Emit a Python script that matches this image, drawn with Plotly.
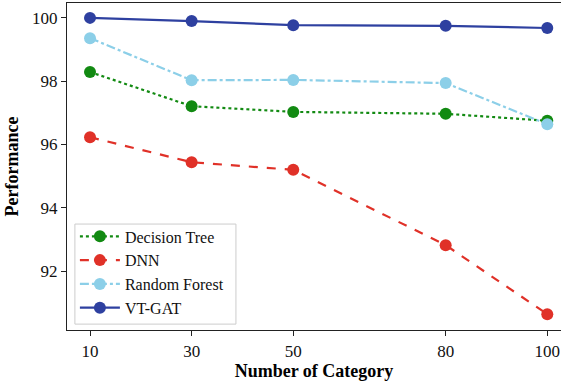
import plotly.graph_objects as go

categories = [10, 30, 50, 80, 100]
decision_tree = [98.29, 97.21, 97.03, 96.97, 96.75]
dnn = [96.23, 95.44, 95.20, 92.82, 90.64]
random_forest = [99.36, 98.03, 98.04, 97.94, 96.64]
vt_gat = [100.0, 99.90, 99.77, 99.75, 99.68]
y_ticks = [92, 94, 96, 98, 100]

series = [
    ("Decision Tree", decision_tree, "#128a12", "dot"),
    ("DNN", dnn, "#e03128", "dash"),
    ("Random Forest", random_forest, "#8ccfe8", "dashdot"),
    ("VT-GAT", vt_gat, "#2e40a0", "solid"),
]

fig = go.Figure()
for name, vals, color, dash in series:
    fig.add_trace(go.Scatter(
        x=categories, y=vals, name=name, mode="lines+markers",
        line=dict(color=color, width=2.2, dash=dash),
        marker=dict(color=color, size=12),
    ))

serif = "Liberation Serif"

# legend frame drawn as a separate box so its padding can be tightened
fig.add_shape(
    type="rect", xref="paper", yref="paper",
    x0=0.016, x1=0.342, y0=0.018, y1=0.324,
    line=dict(color="#cccccc", width=1), fillcolor="rgba(255,255,255,0.85)",
    layer="above",
)

fig.update_layout(
    width=561, height=383,
    margin=dict(l=67, r=0, t=3, b=53),
    paper_bgcolor="white", plot_bgcolor="white",
    font=dict(family=serif, size=16, color="black"),
    showlegend=True,
    legend=dict(
        x=0.016, y=0.014, xanchor="left", yanchor="bottom",
        bgcolor="rgba(0,0,0,0)", borderwidth=0,
        font=dict(family=serif, size=16, color="#111111"),
        itemwidth=40,
    ),
)
fig.update_xaxes(
    range=[5.47, 102.7], tickvals=categories, ticktext=[str(c) for c in categories],
    tickfont=dict(family=serif, size=17, color="#111111"),
    showgrid=False, zeroline=False,
    showline=True, linecolor="#222222", linewidth=1.3, mirror=True,
    ticks="outside", ticklen=5, tickcolor="#222222",
    title=dict(text="<b>Number of Category</b>", font=dict(family=serif, size=18), standoff=1),
)
fig.update_yaxes(
    range=[90.14, 100.47], tickvals=y_ticks,
    tickfont=dict(family=serif, size=17, color="#111111"),
    showgrid=False, zeroline=False,
    showline=True, linecolor="#222222", linewidth=1.3, mirror=False,
    ticks="outside", ticklen=5, tickcolor="#222222",
    title=dict(text="<b>Performance</b>", font=dict(family=serif, size=18), standoff=8),
)

fig.write_html("out.html")
